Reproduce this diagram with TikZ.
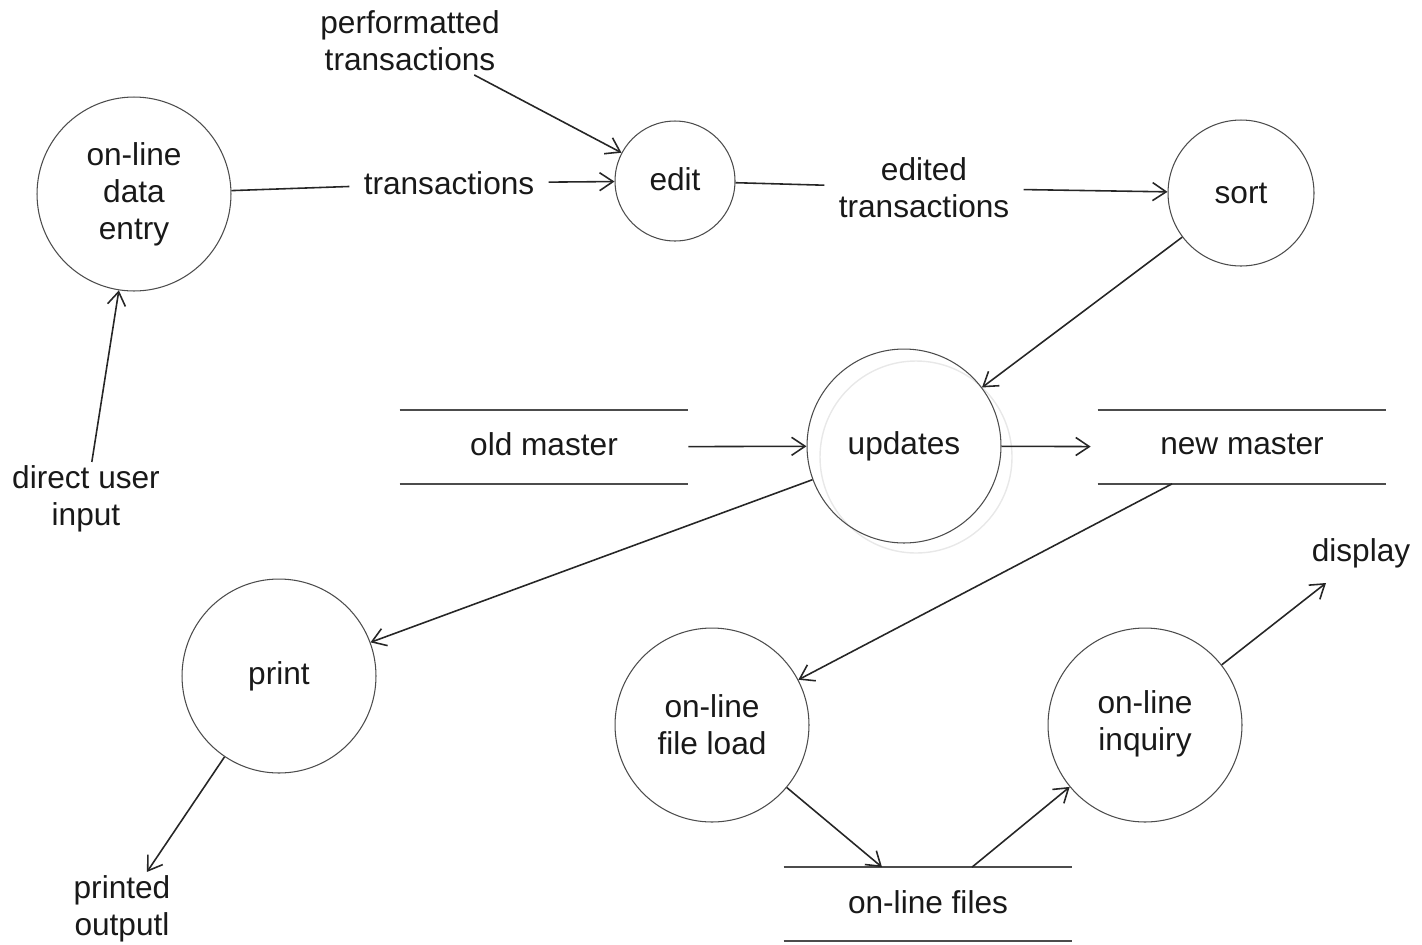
\documentclass[tikz,border=0pt]{standalone}
\usepackage{fontspec}
\setmainfont{Liberation Sans}
\usetikzlibrary{arrows.meta,calc}
\begin{document}
\begin{tikzpicture}[x=0.02cm,y=-0.02cm,
  every node/.style={font=\fontsize{18}{21}\selectfont, text=black!90},
  proc/.style={circle, draw=black!70, line width=0.6pt, align=center, inner sep=0pt},
  big/.style={proc, minimum size=3.88cm},
  lbl/.style={align=center, inner sep=0.28cm},
  store/.style={minimum width=5.76cm, minimum height=1.46cm, inner sep=0pt},
  flow/.style={draw=black!85, line width=0.9pt},
  arr/.style={flow, -{Straight Barb[length=2.7mm,width=3.6mm]}},
  sline/.style={draw=black!70, line width=0.8pt}]
\useasboundingbox (0,0) rectangle (1422,944);

% faint ghost circle behind updates
\draw[black!9, line width=0.8pt] (916,457) circle (96);

% processes
\node[big] (de) at (134,194) {on-line\\data\\entry};
\node[proc, minimum size=2.4cm] (edit) at (675,181) {\raisebox{0.06cm}{edit}};
\node[proc, minimum size=2.92cm] (sort) at (1241,193) {sort};
\node[big] (up) at (904,446) {updates};
\node[big] (pr) at (279,676) {print};
\node[big] (fl) at (712,725) {on-line\\file load};
\node[big] (inq) at (1145,725) {\raisebox{-0.08cm}{\begin{tabular}{@{}c@{}}on-line\\inquiry\end{tabular}}};

% labels
\node[lbl, inner sep=2pt] (perf) at (410,41) {performatted\\transactions};
\node[lbl] (tr) at (449,183) {transactions};
\node[lbl] (etr) at (924,188) {edited\\transactions};
\node[lbl, inner sep=2pt] (dui) at (86,499) {direct user\\input};
\node[lbl, inner sep=2pt] (disp) at (1361,553) {display};
\node[lbl, inner sep=2pt] (po) at (122,909) {printed\\outputl};
\coordinate (dispend) at (1326,583);

% stores
\node[store] (om) at (544,447) {\raisebox{0.1cm}{old master}};
\node[store] (nm) at (1242,447) {\raisebox{0.1cm}{new master}};
\node[store] (of) at (928,904) {\raisebox{0.08cm}{on-line files}};
\foreach \s in {om,nm,of}{
  \draw[sline] (\s.north west) -- (\s.north east);
  \draw[sline] (\s.south west) -- (\s.south east);
}

% flows
\draw[flow] (de) -- (tr);
\draw[arr] (tr) -- (edit);
\draw[arr] (perf) -- (edit);
\draw[flow] (edit) -- (etr);
\draw[arr] (etr) -- (sort);
\draw[arr] (sort) -- (up);
\draw[arr] (om) -- (up);
\draw[arr, shorten >=4pt] (up) -- (nm);
\draw[arr] (up) -- (pr);
\draw[arr] ([xshift=-1.4cm]nm.south) -- (fl);
\draw[arr] (dui) -- (de);
\draw[arr] (pr) -- (po);
\draw[arr] (fl) -- ([xshift=-0.92cm]of.north);
\draw[arr] ([xshift=0.88cm]of.north) -- (inq);
\draw[arr] (inq) -- (dispend);
\end{tikzpicture}
\end{document}
